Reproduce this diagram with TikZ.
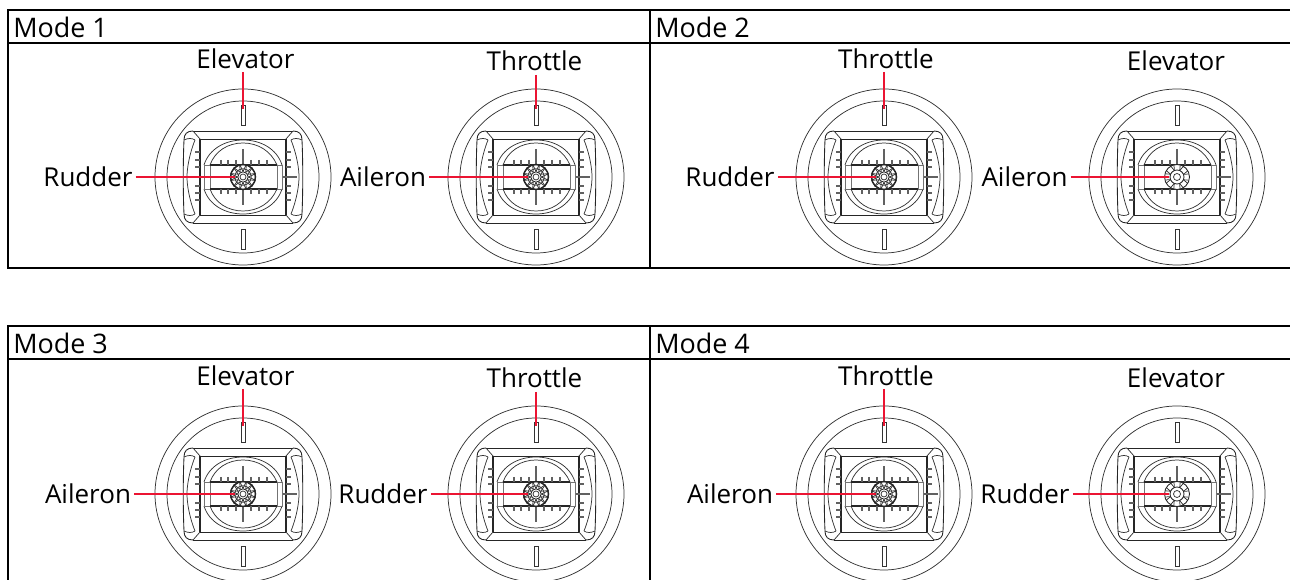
\documentclass[tikz,border=0pt]{standalone}
\usepackage{fontspec}
\setmainfont{Open Sans}
\definecolor{leader}{RGB}{235,20,50}
\tikzset{
 x=0.75pt,y=-0.75pt,
 thinl/.style={line width=0.55pt,draw=black!80},
 lightl/.style={line width=0.55pt,draw=black!55},
 midl/.style={line width=0.65pt,draw=black!85},
 heavy/.style={line width=1.1pt,draw=black!85},
 tick/.style={line width=1.25pt,draw=black!62},
 frame/.style={line width=1.1pt,draw=black},
 redl/.style={line width=1pt,draw=leader},
 lab/.style={font=\fontsize{19.5}{22}\selectfont,inner sep=0pt,anchor=center},
 mode/.style={font=\fontsize{20.2}{22}\selectfont,inner sep=0pt,anchor=west},
 pics/stickunit/.style={code={
  \draw[thinl] (0,0) circle (88);
  \draw[thinl] (0,0) circle (76);
  \draw[thinl] (-2,-72) rectangle (2,-52);
  \draw[thinl] (-2,52) rectangle (2,72);
  % housing outline with rounded corners
  \draw[midl] (-50,-46) -- (50,-46);
  \draw[midl] (-50,46) -- (50,46);
  \draw[midl] (-50,-46) .. controls (-56,-46) and (-59,-43) .. (-59,-37) .. controls (-60,-15) and (-60,15) .. (-59,37) .. controls (-59,43) and (-56,46) .. (-50,46);
  \draw[midl] (50,-46) .. controls (56,-46) and (59,-43) .. (59,-37) .. controls (60,-15) and (60,15) .. (59,37) .. controls (59,43) and (56,46) .. (50,46);
  % corner tiles
  \draw[thinl] (-50,-46) -- (-43,-38) (50,-46) -- (43,-38) (-50,46) -- (-43,38) (50,46) -- (43,38);
  \draw[thinl] (-59,-37) .. controls (-55,-39) and (-51,-39) .. (-48,-37);
  \draw[thinl] (59,-37) .. controls (55,-39) and (51,-39) .. (48,-37);
  \draw[thinl] (-59,37) .. controls (-55,39) and (-51,39) .. (-48,37);
  \draw[thinl] (59,37) .. controls (55,39) and (51,39) .. (48,37);
  % inner curves of the side pieces
  \draw[thinl] (-48,-37) .. controls (-54,-22) and (-56,-8) .. (-56,0) .. controls (-56,8) and (-54,22) .. (-48,37);
  \draw[thinl] (48,-37) .. controls (54,-22) and (56,-8) .. (56,0) .. controls (56,8) and (54,22) .. (48,37);
  % frame
  \draw[midl] (-43,-38) -- (43,-38) (-43,38) -- (43,38);
  \draw[heavy] (-43,-38) -- (-43,38) (43,-38) -- (43,38);
  % gimbal ellipses
  \draw[thinl] (-39,-12) .. controls (-34,-28) and (-18,-37) .. (0,-37) .. controls (18,-37) and (34,-28) .. (39,-12);
  \draw[thinl] (-39,12) .. controls (-34,28) and (-18,37) .. (0,37) .. controls (18,37) and (34,28) .. (39,12);
  \draw[thinl] (-33,-12) .. controls (-28,-26) and (-15,-34) .. (0,-34) .. controls (15,-34) and (28,-26) .. (34,-12);
  \draw[thinl] (-33,12) .. controls (-28,26) and (-15,34) .. (0,34) .. controls (15,34) and (28,26) .. (34,12);
  \draw[lightl] (-39,-12) rectangle (-33,12);
  \draw[lightl] (34,-12) rectangle (39,12);
  % side scales
  \foreach \t in {-25,-17,-10,9,16,23}{
   \draw[tick] (-48,\t) -- (-43,\t);
   \draw[tick] (43,\t) -- (48,\t);
  }
  \draw[tick] (-52,0) -- (-37,0);
  \draw[tick] (40,0) -- (54,0);
  % slider and its scales
  \draw[heavy] (-33,-12) -- (34,-12) (-33,12) -- (34,12);
  \foreach \t in {-22,-15,-7,8,16,24}{
   \draw[tick] (\t,-17) -- (\t,-12);
   \draw[tick] (\t,12) -- (\t,17);
  }
  \draw[tick] (0,-28) -- (0,28);
 }},
 pics/denseknob/.style={code={
  \fill[white] (0,0) circle (12.5);
  \foreach \a in {0,30,...,330}{
   \draw[thinl,rotate=\a] (5.5,0) -- (12.3,3.2) -- (12.3,-3.2) -- cycle;
   \draw[thinl,rotate=\a+15] (8,-2) -- (8,2);
  }
  \draw[heavy] (0,0) circle (12.5);
  \fill[white] (0,0) circle (5.2);
  \draw[midl] (0,0) circle (5.2);
  \draw[thinl] (0,0) circle (3);
 }},
 pics/openknob/.style={code={
  \fill[white] (0,0) circle (12.5);
  \draw[midl] (0,0) circle (12.5);
  \foreach \a in {0,45,...,315}{
   \draw[thinl,rotate=\a+22] (7,0) -- (12,1.6);
   \draw[thinl,rotate=\a+22] (7,0) -- (12,-1.6);
  }
  \draw[midl] (0,0) circle (7);
  \draw[thinl] (0,0) circle (3.5);
 }},
}
\begin{document}
\begin{tikzpicture}
\useasboundingbox (0,0) rectangle (1290,580);
% frames
\draw[frame] (1290,10) -- (8,10) -- (8,268) -- (1290,268);
\draw[frame] (8,43) -- (1290,43);
\draw[frame] (650,10) -- (650,268);
\draw[frame] (1290,326) -- (8,326) -- (8,580);
\draw[frame] (8,359) -- (1290,359);
\draw[frame] (650,326) -- (650,580);
\node[mode] (m1) at (13,27) {Mode 1};
\node[mode] (m2) at (655,27) {Mode 2};
\node[mode] (m3) at (13,343) {Mode 3};
\node[mode] (m4) at (655,343) {Mode 4};
% units
\foreach \cx/\cy/\k in {243/177/denseknob,536/177/denseknob,884/177/denseknob,1177/177/openknob,
                        243/494/denseknob,536/494/denseknob,884/494/denseknob,1177/494/openknob}{
 \pic at (\cx,\cy) {stickunit};
 \pic at (\cx,\cy) {\k};
}
% anchors
\foreach \n/\cx/\cy in {a/243/177,b/536/177,c/884/177,d/1177/177,e/243/494,f/536/494,g/884/494,h/1177/494}{
 \coordinate (\n s) at (\cx,\cy-68);
 \coordinate (\n k) at (\cx-8,\cy);
}
% labels row 1
\node[lab] (l1) at (245.5,59) {Elevator};
\node[lab] (l2) at (88,177) {Rudder};
\node[lab] (l3) at (534.5,61) {Throttle};
\node[lab] (l4) at (383,177) {Aileron};
\node[lab] (l5) at (886,59) {Throttle};
\node[lab] (l6) at (730,177) {Rudder};
\node[lab] (l7) at (1176,61) {Elevator};
\node[lab] (l8) at (1024.5,177) {Aileron};
% labels row 2
\node[lab] (l9) at (245.5,376) {Elevator};
\node[lab] (l10) at (88,494) {Aileron};
\node[lab] (l11) at (534.5,378) {Throttle};
\node[lab] (l12) at (383,494) {Rudder};
\node[lab] (l13) at (886,376) {Throttle};
\node[lab] (l14) at (730,494) {Aileron};
\node[lab] (l15) at (1176,378) {Elevator};
\node[lab] (l16) at (1025,494) {Rudder};
% red leaders
\coordinate (t1) at (243,72);
\coordinate (t2) at (536,75);
\coordinate (t3) at (884,72);
\coordinate (t4) at (243,389);
\coordinate (t5) at (536,392);
\coordinate (t6) at (884,389);
\draw[redl] (t1) -- (as);
\draw[redl] (t2) -- (bs);
\draw[redl] (t3) -- (cs);
\draw[redl] (t4) -- (es);
\draw[redl] (t5) -- (fs);
\draw[redl] (t6) -- (gs);
\draw[redl] ([xshift=2.2pt]l2.east) -- (ak);
\draw[redl] ([xshift=2.2pt]l4.east) -- (bk);
\draw[redl] ([xshift=2.2pt]l6.east) -- (ck);
\draw[redl] ([xshift=2.2pt]l8.east) -- (dk);
\draw[redl] ([xshift=2.2pt]l10.east) -- (ek);
\draw[redl] ([xshift=2.2pt]l12.east) -- (fk);
\draw[redl] ([xshift=2.2pt]l14.east) -- (gk);
\draw[redl] ([xshift=2.2pt]l16.east) -- (hk);
\end{tikzpicture}
\end{document}
